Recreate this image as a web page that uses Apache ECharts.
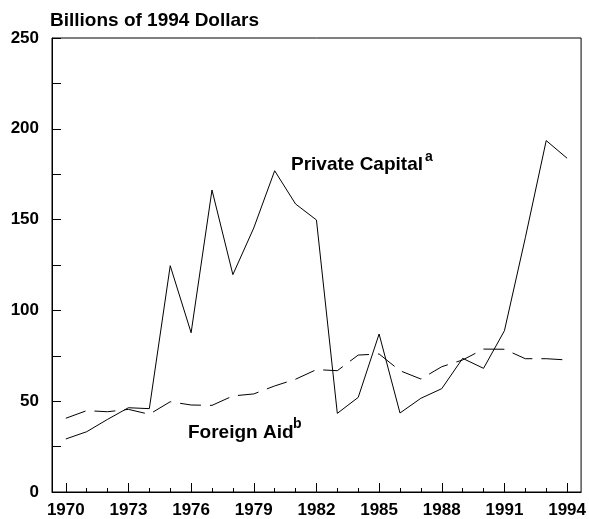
<!DOCTYPE html>
<html>
<head>
<meta charset="utf-8">
<script src="https://cdn.jsdelivr.net/npm/echarts@6/dist/echarts.min.js"></script>
<style>html,body{margin:0;padding:0;background:#fff;}#c{width:589px;height:519px;}</style>
</head>
<body>
<div id="c"></div>
<script>
var years = [1970,1971,1972,1973,1974,1975,1976,1977,1978,1979,1980,1981,1982,1983,1984,1985,1986,1987,1988,1989,1990,1991,1992,1993,1994];
var privateCapital = [29.2,33.2,40.0,46.4,45.9,124.6,87.7,166.3,119.7,145.4,176.9,158.6,149.8,43.3,52.1,87.0,43.5,51.6,56.9,73.6,68.1,88.8,140.0,193.5,183.8];
var foreignAid = [40.6,44.8,44.2,45.5,42.8,49.7,47.9,47.7,52.9,54.0,58.4,62.1,67.4,66.8,75.4,76.0,66.8,62.2,69.0,72.7,78.7,78.6,73.4,73.4,72.7];
var labeledYears = [1970,1973,1976,1979,1982,1985,1988,1991,1994];
var titleText = 'Billions of 1994 Dollars';

var FONT = '"Liberation Sans", Arial, Helvetica, sans-serif';
function pairs(vals){ return years.map(function(y,i){ return [y, vals[i]]; }); }

var chart = echarts.init(document.getElementById('c'), null, {renderer:'canvas'});
chart.setOption({
  animation: false,
  backgroundColor: '#fff',
  grid: { left: 52, right: 7, top: 38, bottom: 27, show: true, borderColor: '#000', borderWidth: 1, backgroundColor: 'transparent' },
  xAxis: [
    { type: 'value', min: 1969.34, max: 1994.67, position: 'bottom',
      axisLine: { show: true, lineStyle: { color: '#000', width: 1 } },
      axisTick: { show: true, inside: true, length: 4, customValues: years, lineStyle: { color: '#000', width: 1 } },
      axisLabel: { show: false },
      splitLine: { show: false } },
    { type: 'value', min: 1969.34, max: 1994.67, position: 'bottom', offset: 0,
      axisLine: { show: false },
      axisTick: { show: true, inside: true, length: 9, customValues: labeledYears, lineStyle: { color: '#000', width: 1 } },
      axisLabel: { show: true, customValues: labeledYears, color: '#000', fontFamily: FONT, fontWeight: 'bold', fontSize: 17, margin: 10,
                   formatter: function(v){ return String(v); } },
      splitLine: { show: false } }
  ],
  yAxis: {
    type: 'value', min: 0, max: 250, interval: 25,
    axisLine: { show: true, lineStyle: { color: '#000', width: 1 } },
    axisTick: { show: true, inside: true, length: 9, lineStyle: { color: '#000', width: 1 } },
    axisLabel: { color: '#000', fontFamily: FONT, fontWeight: 'bold', fontSize: 17, margin: 13,
                 formatter: function(v){ return v % 50 === 0 ? String(v) : ''; } },
    splitLine: { show: false }
  },
  series: [
    { name: 'Private Capital', type: 'line', xAxisIndex: 0, data: pairs(privateCapital), symbol: 'none',
      lineStyle: { color: '#000', width: 1 }, z: 3 },
    { name: 'Foreign Aid', type: 'line', xAxisIndex: 0, data: pairs(foreignAid), symbol: 'none',
      lineStyle: { color: '#000', width: 1, type: [21, 9] }, z: 3 }
  ],
  graphic: [
    { type: 'text', left: 50, top: 11, style: { text: titleText, font: 'bold 19px ' + FONT, fill: '#000' } },
    { type: 'text', left: 291, top: 155, style: { text: 'Private Capital', font: 'bold 19px ' + FONT, fill: '#000' } },
    { type: 'text', left: 425, top: 150, style: { text: 'a', font: 'bold 14px ' + FONT, fill: '#000' } },
    { type: 'text', left: 188, top: 423, style: { text: 'Foreign Aid', font: 'bold 19px ' + FONT, fill: '#000' } },
    { type: 'text', left: 293, top: 417, style: { text: 'b', font: 'bold 14px ' + FONT, fill: '#000' } }
  ]
});
</script>
</body>
</html>
